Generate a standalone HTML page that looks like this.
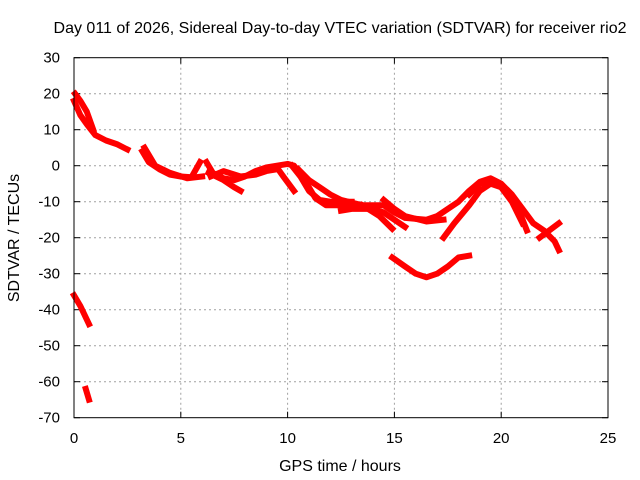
<!DOCTYPE html>
<html><head><meta charset="utf-8"><style>
body{margin:0;background:#fff}
svg{display:block;font-family:"Liberation Sans",sans-serif}
</style></head><body>
<svg id="chart" width="640" height="480" viewBox="0 0 640 480">
<rect width="640" height="480" fill="#fff"/>
<text x="340" y="33" font-size="16" text-anchor="middle">Day 011 of 2026, Sidereal Day-to-day VTEC variation (SDTVAR) for receiver rio2</text>
<text x="340" y="471" font-size="16" text-anchor="middle">GPS time / hours</text>
<text transform="translate(19,238) rotate(-90)" font-size="16" text-anchor="middle">SDTVAR / TECUs</text>
<g id="grid"></g>
<g id="series"></g>
<rect x="74" y="57.7" width="534" height="360" fill="none" stroke="#000" stroke-width="1"/>
</svg>
<script>
const xTicks=[0,5,10,15,20,25];
const yTicks=[30,20,10,0,-10,-20,-30,-40,-50,-60,-70];
const trackA=[[0,18],[0.3,14],[0.6,11.5],[1,8.5],[1.5,7],[2,6],[2.5,4.5]];
const trackB=[[0.05,20],[0.3,18],[0.6,15],[0.9,10]];
const trackC=[[3.2,4],[3.5,1],[4,-1],[4.5,-2.5],[5,-3],[5.5,-3.2],[5.9,1]];
const trackC2=[[3.3,5],[3.8,0],[4.5,-2],[5.3,-3.5],[6,-3]];
const trackD=[[6.2,1],[6.5,-2],[7,-3.5],[7.5,-4],[8,-3],[8.5,-1.5],[9,-0.5],[9.5,0],[10,0.5],[10.3,0],[10.8,-4],[11.3,-9],[11.8,-11],[12.5,-11],[13,-10.5]];
const trackD2=[[6.3,-2],[7,-4],[7.5,-6],[7.8,-7]];
const trackD3=[[6.4,-3],[7,-1.5],[7.8,-3],[8.5,-2.5],[9,-1.5],[9.5,-1]];
const trackE=[[9.5,-0.5],[9.8,-3],[10.3,-7]];
const trackF=[[10.2,0],[10.6,-3],[11,-7],[11.5,-9.5],[12,-10],[13,-10]];
const trackG=[[10.5,-1],[11,-4],[11.5,-6],[12,-8],[12.5,-9.5],[13.5,-11],[14.5,-11],[15,-13],[15.5,-14.5],[16.5,-15],[17,-14],[18,-10],[18.5,-7],[19,-4.5],[19.5,-3.5],[20,-5],[20.5,-8],[21,-12],[21.5,-16],[22,-18],[22.5,-21],[22.7,-23.5]];
const trackG2=[[14.5,-9.5],[15,-12],[15.5,-14],[16.5,-15.5],[17.3,-15]];
const trackH=[[12.5,-12.5],[13,-12],[14,-12],[14.5,-13],[15,-15],[15.5,-17]];
const trackI=[[13.5,-11],[14.3,-14],[14.9,-17.5]];
const trackJ=[[17.3,-20],[17.8,-16],[18.5,-11],[19,-7],[19.5,-5],[20,-6],[20.5,-10],[21,-16]];
const trackJ2=[[18.5,-8],[19,-5],[19.5,-4],[20,-6],[20.8,-12],[21.2,-18]];
const trackK=[[21.8,-20],[22.7,-16]];
const trackL=[[14.9,-25.5],[15.5,-28],[16,-30],[16.5,-31],[17,-30],[17.5,-28],[18,-25.5],[18.5,-25]];
const trackM=[[0,-36],[0.3,-39],[0.7,-44]];
const trackN=[[0.55,-62],[0.7,-65]];
const tracks=[trackA,trackB,trackC,trackC2,trackD,trackD2,trackD3,trackE,trackF,trackG,trackG2,trackH,trackI,trackJ,trackJ2,trackK,trackL,trackM,trackN];
const X0=74,X1=608,Y0=57.7,Y1=417.7;
const xs=v=>X0+(v-0)/(25-0)*(X1-X0);
const ys=v=>Y1-(v-(-70))/(30-(-70))*(Y1-Y0);
const NS="http://www.w3.org/2000/svg";
const grid=document.getElementById('grid'),ser=document.getElementById('series');
function mk(t,a,p){const e=document.createElementNS(NS,t);for(const k in a)e.setAttribute(k,a[k]);p.appendChild(e);return e;}
xTicks.forEach(t=>{const x=xs(t);
 if(t>0&&t<25){const g=mk('line',{x1:x,x2:x,y1:Y0,y2:Y1,stroke:'#a0a0a0','stroke-dasharray':'2,3'},grid);
 }
 mk('line',{x1:x,x2:x,y1:Y1,y2:Y1-6,stroke:'#000'},grid);mk('line',{x1:x,x2:x,y1:Y0,y2:Y0+6,stroke:'#000'},grid);
 const l=mk('text',{x:x,y:443,'font-size':15,'text-anchor':'middle'},grid);l.textContent=t;
 });
yTicks.forEach(t=>{const y=ys(t);
 if(t<30&&t>-70){const g=mk('line',{x1:X0,x2:X1,y1:y,y2:y,stroke:'#a0a0a0','stroke-dasharray':'2,3'},grid);
 }
 mk('line',{x1:X0,x2:X0+6,y1:y,y2:y,stroke:'#000'},grid);mk('line',{x1:X1,x2:X1-6,y1:y,y2:y,stroke:'#000'},grid);
 const l=mk('text',{x:60,y:y+5,'font-size':15,'text-anchor':'end'},grid);l.textContent=t;
 });
tracks.forEach(tr=>{const p=mk('polyline',{points:tr.map(d=>xs(d[0])+','+ys(d[1])).join(' '),fill:'none',stroke:'#f00','stroke-width':6,'stroke-linejoin':'round','stroke-linecap':'square'},ser);
 });
</script>
</body></html>
